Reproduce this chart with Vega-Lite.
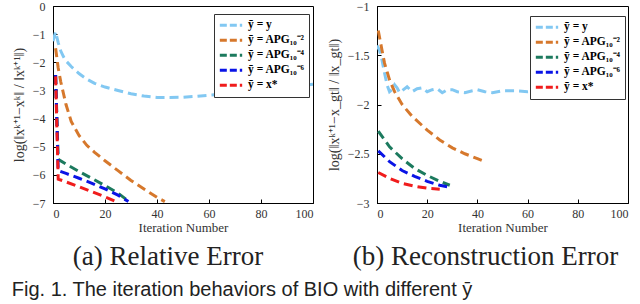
{
 "$schema": "https://vega.github.io/schema/vega-lite/v6.json",
 "background": "white",
 "padding": {"left": 11, "top": -1, "right": 0, "bottom": 0},
 "datasets": {
  "left": [
   {"s": "ȳ = y", "x": 0, "y": -1.25}, {"s": "ȳ = y", "x": 1, "y": -0.92}, {"s": "ȳ = y", "x": 2, "y": -1.3}, {"s": "ȳ = y", "x": 3, "y": -1.6}, {"s": "ȳ = y", "x": 4, "y": -1.8}, {"s": "ȳ = y", "x": 5, "y": -1.95}, {"s": "ȳ = y", "x": 7, "y": -2.15}, {"s": "ȳ = y", "x": 10, "y": -2.4}, {"s": "ȳ = y", "x": 13, "y": -2.6}, {"s": "ȳ = y", "x": 16, "y": -2.75}, {"s": "ȳ = y", "x": 20, "y": -2.88}, {"s": "ȳ = y", "x": 25, "y": -3.0}, {"s": "ȳ = y", "x": 30, "y": -3.12}, {"s": "ȳ = y", "x": 35, "y": -3.2}, {"s": "ȳ = y", "x": 40, "y": -3.25}, {"s": "ȳ = y", "x": 45, "y": -3.25}, {"s": "ȳ = y", "x": 50, "y": -3.24}, {"s": "ȳ = y", "x": 55, "y": -3.21}, {"s": "ȳ = y", "x": 60, "y": -3.17}, {"s": "ȳ = y", "x": 65, "y": -3.13}, {"s": "ȳ = y", "x": 70, "y": -3.09}, {"s": "ȳ = y", "x": 75, "y": -3.05}, {"s": "ȳ = y", "x": 80, "y": -3.0}, {"s": "ȳ = y", "x": 85, "y": -2.96}, {"s": "ȳ = y", "x": 90, "y": -2.91}, {"s": "ȳ = y", "x": 95, "y": -2.85}, {"s": "ȳ = y", "x": 100, "y": -2.78},
   {"s": "ȳ = APG₁₀⁻²", "x": 1, "y": -1.5}, {"s": "ȳ = APG₁₀⁻²", "x": 2, "y": -2.2}, {"s": "ȳ = APG₁₀⁻²", "x": 3, "y": -2.7}, {"s": "ȳ = APG₁₀⁻²", "x": 4, "y": -3.1}, {"s": "ȳ = APG₁₀⁻²", "x": 5, "y": -3.5}, {"s": "ȳ = APG₁₀⁻²", "x": 7, "y": -4.1}, {"s": "ȳ = APG₁₀⁻²", "x": 10, "y": -4.6}, {"s": "ȳ = APG₁₀⁻²", "x": 13, "y": -4.95}, {"s": "ȳ = APG₁₀⁻²", "x": 16, "y": -5.2}, {"s": "ȳ = APG₁₀⁻²", "x": 20, "y": -5.5}, {"s": "ȳ = APG₁₀⁻²", "x": 25, "y": -5.85}, {"s": "ȳ = APG₁₀⁻²", "x": 30, "y": -6.2}, {"s": "ȳ = APG₁₀⁻²", "x": 35, "y": -6.5}, {"s": "ȳ = APG₁₀⁻²", "x": 40, "y": -6.8}, {"s": "ȳ = APG₁₀⁻²", "x": 43, "y": -6.95},
   {"s": "ȳ = APG₁₀⁻⁴", "x": 1, "y": -2.45}, {"s": "ȳ = APG₁₀⁻⁴", "x": 2, "y": -5.45}, {"s": "ȳ = APG₁₀⁻⁴", "x": 5, "y": -5.62}, {"s": "ȳ = APG₁₀⁻⁴", "x": 10, "y": -5.88}, {"s": "ȳ = APG₁₀⁻⁴", "x": 15, "y": -6.13}, {"s": "ȳ = APG₁₀⁻⁴", "x": 20, "y": -6.38}, {"s": "ȳ = APG₁₀⁻⁴", "x": 25, "y": -6.65}, {"s": "ȳ = APG₁₀⁻⁴", "x": 29, "y": -6.93},
   {"s": "ȳ = APG₁₀⁻⁶", "x": 1, "y": -2.45}, {"s": "ȳ = APG₁₀⁻⁶", "x": 2, "y": -5.85}, {"s": "ȳ = APG₁₀⁻⁶", "x": 5, "y": -5.95}, {"s": "ȳ = APG₁₀⁻⁶", "x": 10, "y": -6.12}, {"s": "ȳ = APG₁₀⁻⁶", "x": 15, "y": -6.3}, {"s": "ȳ = APG₁₀⁻⁶", "x": 20, "y": -6.5}, {"s": "ȳ = APG₁₀⁻⁶", "x": 25, "y": -6.72}, {"s": "ȳ = APG₁₀⁻⁶", "x": 29, "y": -6.95},
   {"s": "ȳ = x*", "x": 1, "y": -2.5}, {"s": "ȳ = x*", "x": 2, "y": -6.15}, {"s": "ȳ = x*", "x": 5, "y": -6.25}, {"s": "ȳ = x*", "x": 10, "y": -6.42}, {"s": "ȳ = x*", "x": 15, "y": -6.6}, {"s": "ȳ = x*", "x": 20, "y": -6.78}, {"s": "ȳ = x*", "x": 25, "y": -6.98}
  ],
  "right": [
   {"s": "ȳ = y", "x": 0, "y": -1.4}, {"s": "ȳ = y", "x": 1, "y": -1.45}, {"s": "ȳ = y", "x": 2, "y": -1.55}, {"s": "ȳ = y", "x": 3, "y": -1.68}, {"s": "ȳ = y", "x": 4, "y": -1.8}, {"s": "ȳ = y", "x": 5, "y": -1.87}, {"s": "ȳ = y", "x": 6, "y": -1.85}, {"s": "ȳ = y", "x": 7, "y": -1.8}, {"s": "ȳ = y", "x": 8, "y": -1.83}, {"s": "ȳ = y", "x": 9, "y": -1.88}, {"s": "ȳ = y", "x": 10, "y": -1.86}, {"s": "ȳ = y", "x": 12, "y": -1.82}, {"s": "ȳ = y", "x": 14, "y": -1.87}, {"s": "ȳ = y", "x": 16, "y": -1.84}, {"s": "ȳ = y", "x": 18, "y": -1.83}, {"s": "ȳ = y", "x": 20, "y": -1.87}, {"s": "ȳ = y", "x": 22, "y": -1.85}, {"s": "ȳ = y", "x": 24, "y": -1.84}, {"s": "ȳ = y", "x": 26, "y": -1.88}, {"s": "ȳ = y", "x": 28, "y": -1.85}, {"s": "ȳ = y", "x": 30, "y": -1.85}, {"s": "ȳ = y", "x": 32, "y": -1.87}, {"s": "ȳ = y", "x": 35, "y": -1.88}, {"s": "ȳ = y", "x": 38, "y": -1.86}, {"s": "ȳ = y", "x": 40, "y": -1.85}, {"s": "ȳ = y", "x": 43, "y": -1.87}, {"s": "ȳ = y", "x": 46, "y": -1.88}, {"s": "ȳ = y", "x": 50, "y": -1.86}, {"s": "ȳ = y", "x": 55, "y": -1.86}, {"s": "ȳ = y", "x": 60, "y": -1.87}, {"s": "ȳ = y", "x": 65, "y": -1.86}, {"s": "ȳ = y", "x": 70, "y": -1.85}, {"s": "ȳ = y", "x": 75, "y": -1.85}, {"s": "ȳ = y", "x": 80, "y": -1.85}, {"s": "ȳ = y", "x": 85, "y": -1.84}, {"s": "ȳ = y", "x": 90, "y": -1.85}, {"s": "ȳ = y", "x": 95, "y": -1.84}, {"s": "ȳ = y", "x": 100, "y": -1.82},
   {"s": "ȳ = APG₁₀⁻²", "x": 0.5, "y": -1.25}, {"s": "ȳ = APG₁₀⁻²", "x": 2, "y": -1.45}, {"s": "ȳ = APG₁₀⁻²", "x": 3, "y": -1.58}, {"s": "ȳ = APG₁₀⁻²", "x": 5, "y": -1.75}, {"s": "ȳ = APG₁₀⁻²", "x": 7, "y": -1.87}, {"s": "ȳ = APG₁₀⁻²", "x": 10, "y": -2.0}, {"s": "ȳ = APG₁₀⁻²", "x": 14, "y": -2.12}, {"s": "ȳ = APG₁₀⁻²", "x": 20, "y": -2.26}, {"s": "ȳ = APG₁₀⁻²", "x": 25, "y": -2.36}, {"s": "ȳ = APG₁₀⁻²", "x": 30, "y": -2.44}, {"s": "ȳ = APG₁₀⁻²", "x": 35, "y": -2.5}, {"s": "ȳ = APG₁₀⁻²", "x": 40, "y": -2.55}, {"s": "ȳ = APG₁₀⁻²", "x": 43, "y": -2.58},
   {"s": "ȳ = APG₁₀⁻⁴", "x": 0.5, "y": -2.27}, {"s": "ȳ = APG₁₀⁻⁴", "x": 5, "y": -2.43}, {"s": "ȳ = APG₁₀⁻⁴", "x": 10, "y": -2.55}, {"s": "ȳ = APG₁₀⁻⁴", "x": 15, "y": -2.65}, {"s": "ȳ = APG₁₀⁻⁴", "x": 20, "y": -2.72}, {"s": "ȳ = APG₁₀⁻⁴", "x": 25, "y": -2.78}, {"s": "ȳ = APG₁₀⁻⁴", "x": 29, "y": -2.82},
   {"s": "ȳ = APG₁₀⁻⁶", "x": 0.5, "y": -2.47}, {"s": "ȳ = APG₁₀⁻⁶", "x": 5, "y": -2.58}, {"s": "ȳ = APG₁₀⁻⁶", "x": 10, "y": -2.67}, {"s": "ȳ = APG₁₀⁻⁶", "x": 15, "y": -2.73}, {"s": "ȳ = APG₁₀⁻⁶", "x": 20, "y": -2.78}, {"s": "ȳ = APG₁₀⁻⁶", "x": 25, "y": -2.82}, {"s": "ȳ = APG₁₀⁻⁶", "x": 29, "y": -2.84},
   {"s": "ȳ = x*", "x": 0.5, "y": -2.69}, {"s": "ȳ = x*", "x": 5, "y": -2.75}, {"s": "ȳ = x*", "x": 10, "y": -2.8}, {"s": "ȳ = x*", "x": 15, "y": -2.83}, {"s": "ȳ = x*", "x": 20, "y": -2.85}, {"s": "ȳ = x*", "x": 25, "y": -2.86}
  ]
 },
 "config": {
  "view": {"stroke": "black", "strokeWidth": 1},
  "title": {"font": "Liberation Serif", "fontSize": 27, "fontWeight": "normal", "color": "#222"}
 },
 "title": {"text": "Fig. 1. The iteration behaviors of BIO with different ȳ", "orient": "bottom", "anchor": "start", "font": "Liberation Sans", "fontSize": 20, "fontWeight": "normal", "color": "#222", "offset": 9},
 "spacing": 64,
 "bounds": "flush",
 "resolve": {"legend": {"color": "independent"}, "scale": {"y": "independent"}},
 "hconcat": [
  {
   "width": 260, "height": 197,
   "title": {"text": "(a) Relative Error", "orient": "bottom", "offset": 10, "dx": -15},
   "data": {"name": "left"},
   "mark": {"type": "line", "strokeDash": [9, 5], "strokeWidth": 3, "clip": true},
   "encoding": {
    "x": {"field": "x", "type": "quantitative", "scale": {"domain": [0, 100], "nice": false}, "axis": {"title": "Iteration Number", "values": [0, 20, 40, 60, 80, 100], "grid": false, "domainColor": "black", "tickColor": "black", "tickSize": -4, "labelPadding": 9, "labelFont": "Liberation Serif", "labelFontSize": 12, "labelColor": "#333", "titleFont": "Liberation Serif", "titleFontSize": 13, "titleFontWeight": "normal", "titleColor": "#333", "titlePadding": 2}},
    "y": {"field": "y", "type": "quantitative", "scale": {"domain": [-7, 0], "nice": false}, "axis": {"title": "log(‖xᵏ⁺¹−xᵏ‖ / ‖xᵏ⁺¹‖)", "values": [0, -1, -2, -3, -4, -5, -6, -7], "format": "~g", "grid": false, "domainColor": "black", "tickColor": "black", "tickSize": -4, "labelPadding": 12, "labelFont": "Liberation Serif", "labelFontSize": 12, "labelColor": "#333", "titleFont": "Liberation Serif", "titleFontSize": 14, "titleFontWeight": "normal", "titleColor": "#333", "titlePadding": 6}},
    "color": {"field": "s", "type": "nominal", "sort": null, "scale": {"domain": ["ȳ = y", "ȳ = APG₁₀⁻²", "ȳ = APG₁₀⁻⁴", "ȳ = APG₁₀⁻⁶", "ȳ = x*"], "range": ["#82c8f2", "#d6782c", "#1c7a5e", "#0a14e6", "#f01c1c"]},
     "legend": {"title": null, "orient": "none", "legendX": 161, "legendY": 8, "strokeColor": "#333", "fillColor": "white", "padding": 4, "symbolType": "stroke", "symbolStrokeWidth": 3, "symbolDash": [7, 3], "symbolSize": 500, "clipHeight": 14.5, "labelFont": "Liberation Serif", "labelFontSize": 11.5, "labelFontWeight": "bold", "labelColor": "black", "rowPadding": 0, "labelOffset": 4}}
   }
  },
  {
   "width": 251, "height": 197,
   "title": {"text": "(b) Reconstruction Error", "orient": "bottom", "offset": 10, "dx": -17},
   "data": {"name": "right"},
   "mark": {"type": "line", "strokeDash": [9, 5], "strokeWidth": 3, "clip": true},
   "encoding": {
    "x": {"field": "x", "type": "quantitative", "scale": {"domain": [0, 100], "nice": false}, "axis": {"title": "Iteration Number", "values": [0, 20, 40, 60, 80, 100], "grid": false, "domainColor": "black", "tickColor": "black", "tickSize": -4, "labelPadding": 9, "labelFont": "Liberation Serif", "labelFontSize": 12, "labelColor": "#333", "titleFont": "Liberation Serif", "titleFontSize": 13, "titleFontWeight": "normal", "titleColor": "#333", "titlePadding": 2}},
    "y": {"field": "y", "type": "quantitative", "scale": {"domain": [-3, -1], "nice": false}, "axis": {"title": "log(‖xᵏ⁺¹−x_gt‖ / ‖x_gt‖)", "values": [-1, -1.5, -2, -2.5, -3], "format": "~g", "grid": false, "domainColor": "black", "tickColor": "black", "tickSize": -4, "labelPadding": 12, "labelFont": "Liberation Serif", "labelFontSize": 12, "labelColor": "#333", "titleFont": "Liberation Serif", "titleFontSize": 14, "titleFontWeight": "normal", "titleColor": "#333", "titlePadding": 6}},
    "color": {"field": "s", "type": "nominal", "sort": null, "scale": {"domain": ["ȳ = y", "ȳ = APG₁₀⁻²", "ȳ = APG₁₀⁻⁴", "ȳ = APG₁₀⁻⁶", "ȳ = x*"], "range": ["#82c8f2", "#d6782c", "#1c7a5e", "#0a14e6", "#f01c1c"]},
     "legend": {"title": null, "orient": "none", "legendX": 153, "legendY": 10, "strokeColor": "#333", "fillColor": "white", "padding": 4, "symbolType": "stroke", "symbolStrokeWidth": 3, "symbolDash": [7, 3], "symbolSize": 500, "clipHeight": 14.5, "labelFont": "Liberation Serif", "labelFontSize": 11.5, "labelFontWeight": "bold", "labelColor": "black", "rowPadding": 0, "labelOffset": 4}}
   }
  }
 ]
}
